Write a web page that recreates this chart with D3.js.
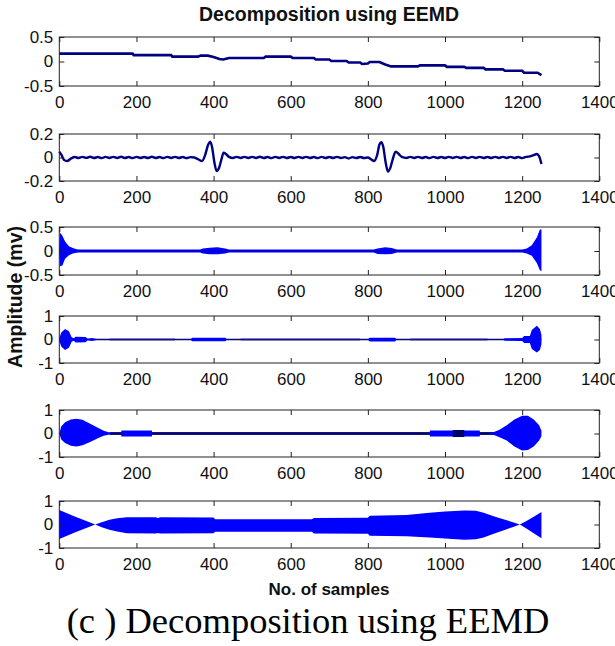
<!DOCTYPE html>
<html><head><meta charset="utf-8">
<script src="https://cdn.jsdelivr.net/npm/d3@7"></script>
<style>body{margin:0;background:#fff} svg{display:block}</style>
</head><body>
<svg id="c" width="615" height="646"></svg>
<script>
// ---------- data ----------
const xTickValues = [0, 200, 400, 600, 800, 1000, 1200, 1400];
const yTicksA = [-0.5, 0, 0.5];
const yTicksB = [-0.2, 0, 0.2];
const yTicksC = [-1, 0, 1];

// residual / trend : [sample, amplitude]
const trend = [[0,0.16],[190,0.16],[193,0.13],[290,0.13],[293,0.1],[360,0.1],[366,0.12],[385,0.12],[400,0.09],[415,0.05],[425,0.04],[435,0.06],[440,0.07],[530,0.07],[535,0.1],[600,0.1],[605,0.07],[660,0.07],[665,0.04],[700,0.04],[705,0.01],[745,0.01],[750,-0.02],[780,-0.02],[785,-0.05],[800,-0.04],[805,-0.01],[830,-0.01],[845,-0.06],[860,-0.1],[930,-0.1],[935,-0.08],[1000,-0.08],[1005,-0.11],[1050,-0.11],[1055,-0.13],[1100,-0.13],[1105,-0.16],[1150,-0.16],[1155,-0.19],[1200,-0.19],[1205,-0.23],[1240,-0.23],[1250,-0.28]];

// low-frequency IMF : [sample, amplitude]
const imfLow = [[0,0.05],[6,0.02],[12,-0.02],[20,-0.03],[30,-0.01],[40,0.004],[50,-0.004],[60,0.005],[70,-0.003],[80,0.006],[90,-0.004],[100,0.004],[110,-0.005],[120,0.005],[130,-0.004],[140,0.005],[150,-0.004],[160,0.006],[170,-0.004],[180,0.004],[190,-0.005],[200,0.005],[210,-0.004],[220,0.004],[230,-0.004],[240,0.006],[250,-0.004],[260,0.004],[270,-0.005],[280,0.005],[290,-0.004],[300,0.005],[310,-0.004],[320,0.004],[330,-0.005],[340,0.003],[350,0.0],[360,-0.015],[370,-0.03],[378,0.02],[386,0.11],[391,0.135],[396,0.09],[402,-0.04],[408,-0.115],[414,-0.09],[420,-0.02],[426,0.04],[432,0.03],[440,0.005],[450,-0.004],[460,0.005],[470,-0.004],[480,0.005],[490,-0.004],[500,0.005],[510,-0.004],[520,0.006],[530,-0.004],[540,0.004],[550,-0.005],[560,0.005],[570,-0.004],[580,0.005],[590,-0.004],[600,0.004],[610,-0.004],[620,0.005],[630,-0.004],[640,0.005],[650,-0.004],[660,0.004],[670,-0.005],[680,0.005],[690,-0.004],[700,0.004],[710,-0.004],[720,0.005],[730,-0.004],[740,0.003],[750,-0.008],[760,0.003],[770,-0.004],[780,0.004],[790,-0.004],[800,0.0],[808,-0.015],[816,-0.03],[824,0.02],[830,0.11],[835,0.13],[840,0.09],[846,-0.04],[852,-0.12],[858,-0.09],[864,-0.02],[872,0.05],[880,0.03],[888,0.005],[900,-0.004],[910,0.005],[920,-0.004],[930,0.005],[940,-0.004],[950,0.004],[960,-0.005],[970,0.005],[980,-0.004],[990,0.004],[1000,-0.004],[1010,0.005],[1020,-0.004],[1030,0.005],[1040,-0.004],[1050,0.004],[1060,-0.005],[1070,0.005],[1080,-0.004],[1090,0.005],[1100,-0.004],[1110,0.004],[1120,-0.004],[1130,0.005],[1140,-0.004],[1150,0.005],[1160,-0.004],[1170,0.005],[1180,-0.004],[1190,0.004],[1200,-0.005],[1210,0.005],[1220,0.01],[1230,0.02],[1238,0.03],[1244,0.01],[1250,-0.055]];

// envelopes of the oscillating IMFs : [sample, upper, lower]
const imfHigh1 = [[0,0.05,-0.05],[2,0.38,-0.32],[8,0.32,-0.3],[15,0.2,-0.16],[25,0.1,-0.09],[35,0.06,-0.05],[45,0.035,-0.035],[50,0.03,-0.03],[365,0.03,-0.03],[372,0.05,-0.05],[390,0.07,-0.07],[410,0.08,-0.07],[430,0.05,-0.05],[440,0.03,-0.03],[815,0.03,-0.03],[825,0.05,-0.06],[845,0.08,-0.07],[862,0.06,-0.06],[875,0.03,-0.03],[1200,0.03,-0.03],[1212,0.05,-0.05],[1225,0.12,-0.1],[1238,0.28,-0.25],[1246,0.45,-0.4],[1250,0.45,-0.42]];

const imfHigh2 = [[0,0.05,-0.05],[5,0.3,-0.3],[15,0.45,-0.45],[25,0.35,-0.35],[32,0.1,-0.1],[38,0.05,-0.05],[42,0.12,-0.13],[68,0.11,-0.12],[74,0.03,-0.03],[84,0.06,-0.06],[94,0.03,-0.03],[100,0.01,-0.01],[340,0.01,-0.01],[345,0.07,-0.07],[430,0.07,-0.07],[435,0.01,-0.01],[800,0.01,-0.01],[805,0.07,-0.08],[870,0.07,-0.08],[875,0.01,-0.01],[1150,0.01,-0.01],[1155,0.05,-0.05],[1200,0.06,-0.06],[1205,0.15,-0.15],[1220,0.15,-0.15],[1225,0.4,-0.4],[1238,0.58,-0.55],[1246,0.45,-0.45],[1250,0.2,-0.2]];
const imfHigh2Ripple = [[130,300],[470,780],[910,1110]];

const imfMid = [[0,0,0],[5,0.3,-0.25],[15,0.48,-0.4],[30,0.6,-0.52],[45,0.63,-0.55],[60,0.58,-0.5],[80,0.42,-0.36],[100,0.24,-0.2],[115,0.12,-0.1],[130,0.04,-0.04],[140,0.0,0.0],[160,0.0,0.0],[161,0.13,-0.13],[240,0.13,-0.13],[241,0.0,0.0],[960,0.0,0.0],[961,0.13,-0.13],[1090,0.13,-0.13],[1091,0.0,0.0],[1115,0.0,0.0],[1125,0.05,-0.05],[1140,0.15,-0.15],[1160,0.35,-0.3],[1180,0.6,-0.55],[1200,0.76,-0.72],[1215,0.76,-0.7],[1230,0.6,-0.55],[1244,0.35,-0.3],[1250,0.12,-0.12]];
const imfMidCore = [[130, 1130]];
const imfMidDark = [[1020, 1050]];

const imfSlow = [[0,0.62,-0.62],[20,0.48,-0.48],[40,0.34,-0.34],[60,0.21,-0.21],[80,0.08,-0.08],[93,0.0,0.0],[110,0.1,-0.12],[130,0.2,-0.22],[150,0.27,-0.3],[175,0.31,-0.37],[250,0.31,-0.38],[255,0.28,-0.36],[262,0.31,-0.38],[400,0.3,-0.37],[404,0.22,-0.31],[655,0.22,-0.31],[660,0.28,-0.38],[800,0.29,-0.39],[805,0.37,-0.48],[900,0.4,-0.5],[960,0.5,-0.55],[1000,0.55,-0.6],[1050,0.6,-0.65],[1080,0.58,-0.63],[1100,0.5,-0.55],[1130,0.33,-0.37],[1160,0.18,-0.2],[1180,0.07,-0.08],[1194,0.0,0.0],[1210,0.14,-0.16],[1230,0.33,-0.37],[1250,0.53,-0.58]];

// ---------- layout ----------
const svg = d3.select('#c');
const left = 59.3, right = 599.3;
const x = d3.scaleLinear().domain([0, 1400]).range([left, right]);
const NAVY = '#000080', BLUE = '#0000ff';
const sans = '"Liberation Sans",Arial,sans-serif';

const panels = [
  {top: 37, bottom: 86, dom: [-0.5, 0.5], ticks: yTicksA},
  {top: 134, bottom: 181, dom: [-0.2, 0.2], ticks: yTicksB},
  {top: 227, bottom: 275, dom: [-0.5, 0.5], ticks: yTicksA},
  {top: 316, bottom: 363, dom: [-1, 1], ticks: yTicksC},
  {top: 410, bottom: 457, dom: [-1, 1], ticks: yTicksC},
  {top: 501, bottom: 548, dom: [-1, 1], ticks: yTicksC}
];

panels.forEach((p, i) => {
  const y = d3.scaleLinear().domain(p.dom).range([p.bottom, p.top]);
  const g = svg.append('g');
  const area = d3.area().x(d => x(d[0])).y0(d => y(d[2])).y1(d => y(d[1]));
  const line = d3.line().x(d => x(d[0])).y(d => y(d[1]));
  const band = (r, h, col) => g.append('rect').attr('x', x(r[0])).attr('width', x(r[1]) - x(r[0]))
      .attr('y', y(h)).attr('height', y(-h) - y(h)).attr('fill', col);
  if (i === 0) {
    g.append('path').datum(trend).attr('d', line).attr('fill', 'none')
      .attr('stroke', NAVY).attr('stroke-width', 2.6);
  } else if (i === 1) {
    g.append('path').datum(imfLow).attr('d', line.curve(d3.curveMonotoneX)).attr('fill', 'none')
      .attr('stroke', NAVY).attr('stroke-width', 2.4);
  } else if (i === 2) {
    g.append('path').datum(imfHigh1).attr('d', area).attr('fill', BLUE);
    g.append('line').attr('x1', x(50)).attr('x2', x(1200)).attr('y1', y(0)).attr('y2', y(0))
      .attr('stroke', '#0000b0').attr('stroke-width', 1);
  } else if (i === 3) {
    g.append('line').attr('x1', x(0)).attr('x2', x(1250)).attr('y1', y(0)).attr('y2', y(0))
      .attr('stroke', '#000030').attr('stroke-width', 1.3);
    imfHigh2Ripple.forEach(r => band(r, 0.04, '#1a1a80').attr('opacity', 0.8));
    g.append('path').datum(imfHigh2).attr('d', area).attr('fill', BLUE);
  } else if (i === 4) {
    imfMidCore.forEach(r => band(r, 0.06, '#000070'));
    g.append('path').datum(imfMid).attr('d', area).attr('fill', BLUE);
    imfMidDark.forEach(r => band(r, 0.15, '#00006a'));
  } else {
    g.append('path').datum(imfSlow).attr('d', area).attr('fill', BLUE);
  }

  // box
  svg.append('rect').attr('x', left).attr('y', p.top).attr('width', right - left)
    .attr('height', p.bottom - p.top).attr('fill', 'none').attr('stroke', '#222').attr('stroke-width', 1);

  const fmt = d => String(d);
  const ax = [
    svg.append('g').attr('transform', `translate(0,${p.bottom})`)
      .call(d3.axisBottom(x).tickValues(xTickValues).tickSize(-5).tickPadding(10).tickFormat(fmt)),
    svg.append('g').attr('transform', `translate(0,${p.top})`)
      .call(d3.axisTop(x).tickValues(xTickValues).tickSize(-5).tickFormat('')),
    svg.append('g').attr('transform', `translate(${left},0)`)
      .call(d3.axisLeft(y).tickValues(p.ticks).tickSize(-5).tickPadding(6).tickFormat(fmt)),
    svg.append('g').attr('transform', `translate(${right},0)`)
      .call(d3.axisRight(y).tickValues(p.ticks).tickSize(-5).tickFormat(''))
  ];
  ax.forEach(a => {
    a.select('.domain').remove();
    a.selectAll('line').attr('stroke', '#222');
    a.selectAll('text').attr('font-family', sans).attr('font-size', 17).attr('fill', '#111');
  });
});

svg.append('text').attr('x', 329).attr('y', 21).attr('text-anchor', 'middle')
  .attr('font-family', sans).attr('font-weight', 'bold')
  .attr('font-size', 19.5).attr('fill', '#111').text('Decomposition using EEMD');

svg.append('text').attr('transform', 'translate(22,297) rotate(-90)').attr('text-anchor', 'middle')
  .attr('font-family', sans).attr('font-weight', 'bold')
  .attr('font-size', 19.5).attr('fill', '#111').text('Amplitude (mv)');

svg.append('text').attr('x', 329).attr('y', 595).attr('text-anchor', 'middle')
  .attr('font-family', sans).attr('font-weight', 'bold')
  .attr('font-size', 17).attr('fill', '#111').text('No. of samples');

svg.append('text').attr('x', 308).attr('y', 633).attr('text-anchor', 'middle')
  .attr('font-family', '"Liberation Serif","Times New Roman",serif')
  .attr('font-size', 36.5).attr('fill', '#000').text('(c ) Decomposition using EEMD');
</script>
</body></html>
